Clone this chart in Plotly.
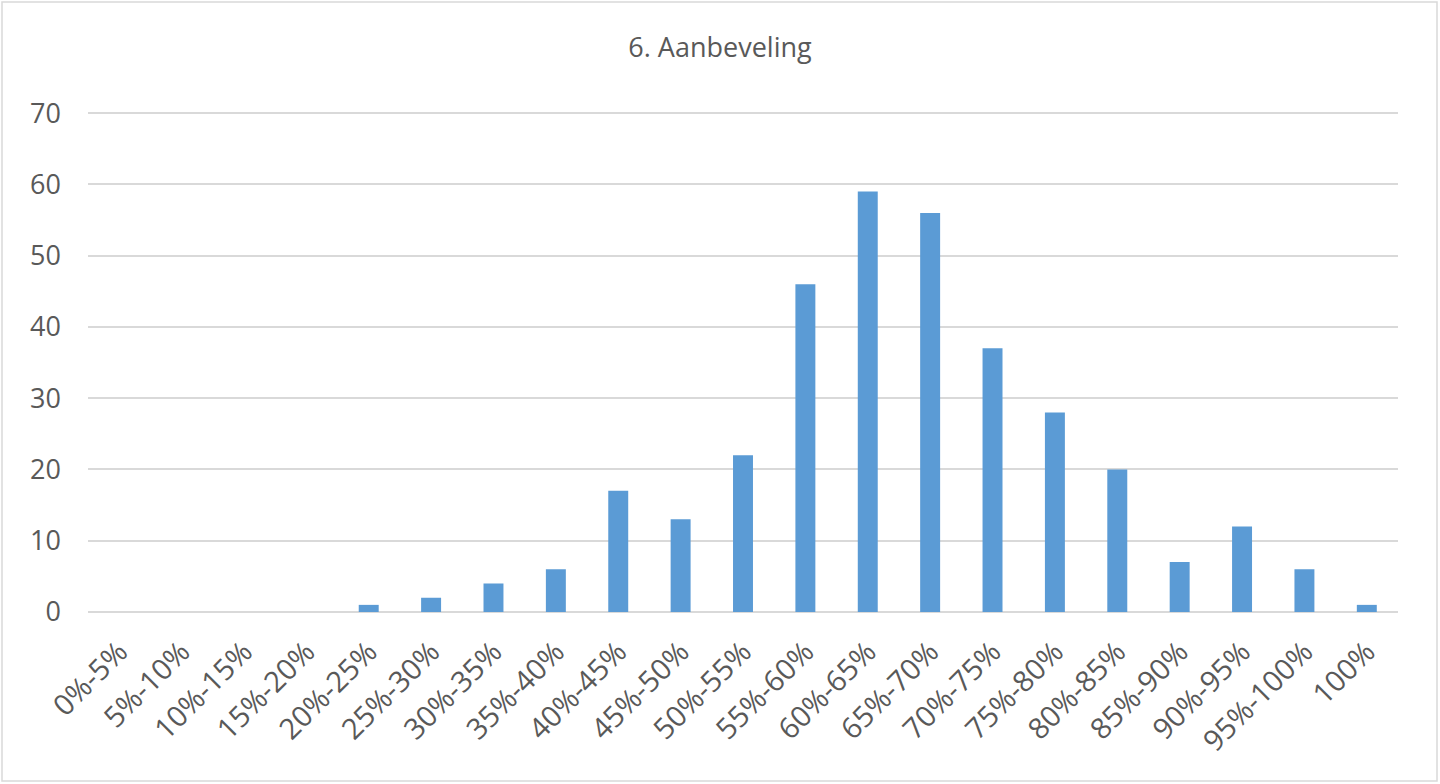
import plotly.graph_objects as go

categories = ['0%-5%', '5%-10%', '10%-15%', '15%-20%', '20%-25%', '25%-30%', '30%-35%',
              '35%-40%', '40%-45%', '45%-50%', '50%-55%', '55%-60%', '60%-65%', '65%-70%',
              '70%-75%', '75%-80%', '80%-85%', '85%-90%', '90%-95%', '95%-100%', '100%']
counts = [0, 0, 0, 0, 1, 2, 4, 6, 17, 13, 22, 46, 59, 56, 37, 28, 20, 7, 12, 6, 1]
y_ticks = [0, 10, 20, 30, 40, 50, 60, 70]

W, H = 1440, 784
# y range runs a little past 70 so the top gridline is drawn
ml, mr, mt, mb = 88, 42, 106, 172
pw, ph = W - ml - mr, H - mt - mb

fig = go.Figure()
fig.add_trace(go.Bar(x=categories, y=counts, marker=dict(color='#5B9BD5', line=dict(width=0))))

fig.update_layout(
    width=W, height=H,
    margin=dict(l=ml, r=mr, t=mt, b=mb),
    paper_bgcolor='white', plot_bgcolor='white',
    font=dict(family='Open Sans, Calibri, sans-serif', color='#595959'),
    title=dict(text='6. Aanbeveling', x=0.5, xanchor='center', y=1 - 48 / H, yanchor='middle',
               font=dict(size=27, color='#595959')),
    bargap=0.68,
    showlegend=False,
)
fig.update_xaxes(tickangle=-45, tickfont=dict(size=29), showgrid=False, showline=False,
                 ticks='', ticklen=0, ticklabelstandoff=16)
fig.update_yaxes(range=[0, 71], tickvals=y_ticks, tickfont=dict(size=27), showgrid=True,
                 gridcolor='#D9D9D9', gridwidth=1.5, zeroline=True, zerolinecolor='#D9D9D9',
                 zerolinewidth=1.5, showline=False, ticks='', ticklabelstandoff=26)

# chart outer border
fig.add_shape(type='rect', xref='paper', yref='paper',
              x0=(2 - ml) / pw, x1=(W - 3 - ml) / pw,
              y0=-(H - 3 - mt - ph) / ph, y1=(H - mb - 2) / ph,
              line=dict(color='#D9D9D9', width=1.5), fillcolor='rgba(0,0,0,0)', layer='below')

fig.write_html("out.html", config={'displayModeBar': False},
               post_script="document.body.style.margin='0';document.body.style.overflow='hidden';")
